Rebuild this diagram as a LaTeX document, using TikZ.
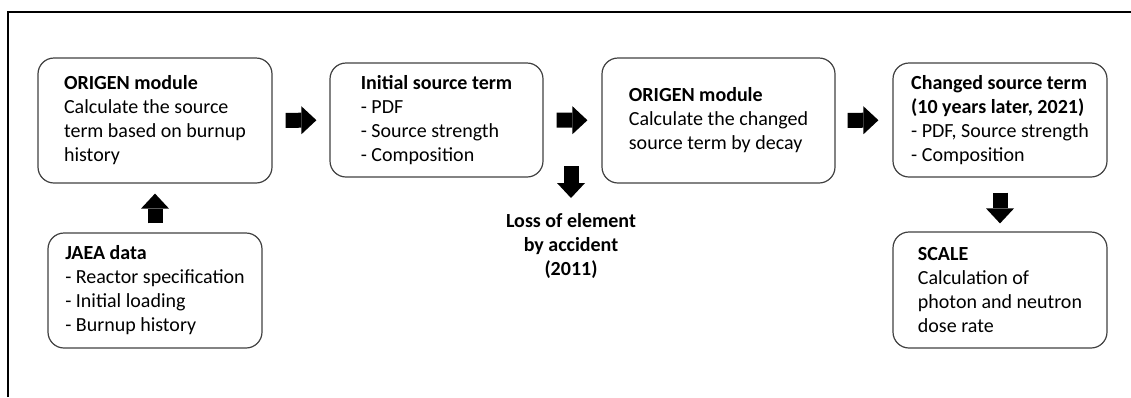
\documentclass[tikz,border=0pt]{standalone}
\usepackage{fontspec}
\setmainfont{Carlito}
\usetikzlibrary{arrows.meta}
\begin{document}
\begin{tikzpicture}[x=1pt,y=-1pt,
  blk/.style={draw=black!75,line width=1.2pt,rounded corners=16pt,align=left,inner sep=0pt,font=\fontsize{20}{24}\selectfont},
  bigarrow/.style={line width=15pt,-{Triangle[length=15pt,width=28pt,line width=0pt]}}]
\useasboundingbox (0,0) rectangle (1131,397);
\draw [line width=1.2pt] (8,397) -- (8,12) -- (1131,12);
\node[blk,minimum width=234pt,minimum height=125pt] (orig1) at (155,120.5) {\textbf{ORIGEN module}\\Calculate the source\\term based on burnup\\history};
\node[blk,minimum width=213pt,minimum height=114pt] (init) at (436.5,120) {\textbf{Initial source term}\\- PDF\\- Source strength\\- Composition};
\node[blk,minimum width=233pt,minimum height=125pt] (orig2) at (718.5,120.5) {\textbf{ORIGEN module}\\Calculate the changed\\source term by decay};
\node[blk,minimum width=214pt,minimum height=114pt] (chg) at (1000,120) {\textbf{Changed source term}\\\textbf{(10 years later, 2021)}\\- PDF, Source strength\\- Composition};
\node[blk,minimum width=214pt,minimum height=115pt] (jaea) at (155,290.5) {\textbf{JAEA data}\\- Reactor specification\\- Initial loading\\- Burnup history};
\node[blk,minimum width=214pt,minimum height=116pt] (scale) at (1000,290) {\textbf{SCALE}\\Calculation of\\photon and neutron\\dose rate};
\node[anchor=north,align=center,inner sep=0pt,font=\fontsize{20}{24}\selectfont\bfseries] (loss) at (571,213) {Loss of element\\by accident\\(2011)};
\coordinate (lossTip) at (571,166);
% block arrows
\draw [bigarrow,shorten <=13pt,shorten >=13pt] (orig1) -- (init);
\draw [bigarrow,shorten <=13pt,shorten >=14pt] (init) -- (orig2);
\draw [bigarrow,shorten <=12pt,shorten >=14pt] (orig2) -- (chg);
\draw [bigarrow,shorten <=9pt,shorten >=10pt] (jaea) -- (orig1);
\draw [bigarrow,shorten <=15pt,shorten >=8pt] (chg) -- (scale);
\draw [bigarrow,shorten >=15pt] (lossTip) -- (lossTip |- loss.north);
\end{tikzpicture}
\end{document}
